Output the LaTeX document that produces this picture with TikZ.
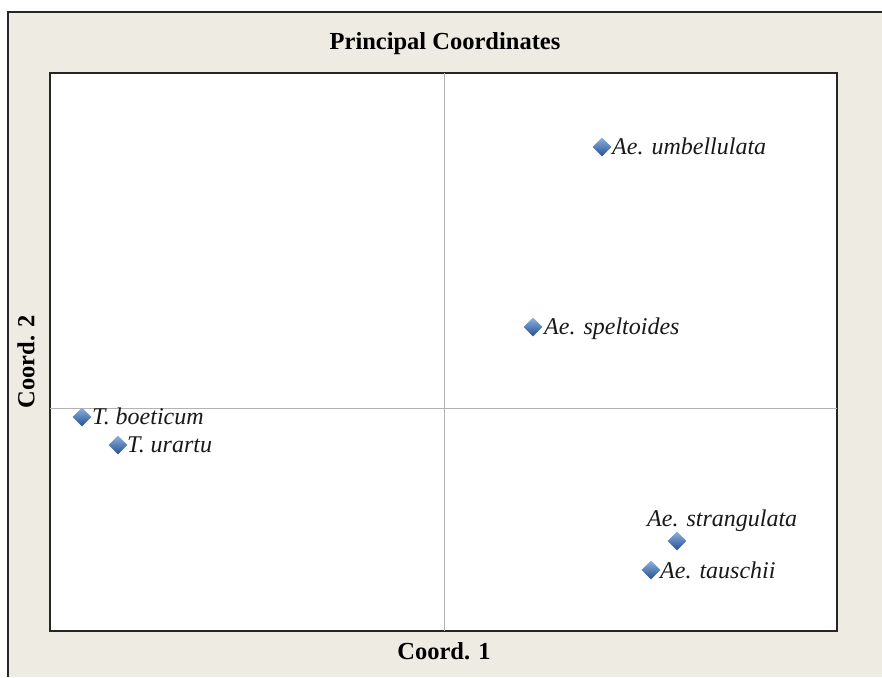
\documentclass[tikz,border=0pt]{standalone}
\usepackage{fontspec}
\setmainfont{Liberation Serif}
\usetikzlibrary{shapes.geometric}
\definecolor{panel}{HTML}{EDEBE2}
\definecolor{ptlight}{HTML}{8DB0E0}
\definecolor{ptdark}{HTML}{24508F}
\tikzset{
  pt/.style={diamond, inner sep=0, minimum size=19pt, top color=ptlight, bottom color=ptdark},
  lab/.style={inner sep=0, anchor=base west, font=\fontsize{24}{28}\selectfont\itshape, text=black!90},
  axlab/.style={inner sep=0, anchor=base, font=\fontsize{24.5}{28}\selectfont\bfseries}
}
\begin{document}
\begin{tikzpicture}[x=1pt, y=-1pt]
    \useasboundingbox (0,0) rectangle (882,677);
    \fill[white] (0,0) rectangle (882,677);
    \fill[panel] (8,12) rectangle (882,677);
    \draw[line width=2pt, black!85] (8,677)--(8,12)--(882,12);
    \draw[line width=1.8pt, black!85, fill=white] (50,73) rectangle (837,631);
    \draw[gray!60, line width=1pt]
      (444,73)--(444,631)
      (50,408)--(837,408)
    ;
    \node[axlab] (title) at (445,49) {Principal Coordinates};
    \node[axlab] (c1) at (444,659) {Coord. 1};
    \node[axlab, rotate=90, anchor=center] (c2) at (26,362) {Coord. 2};
    \node[pt] (umb) at (602,147) {};
    \node[pt] (spe) at (533,327) {};
    \node[pt] (boe) at (82,417) {};
    \node[pt] (ura) at (118,445) {};
    \node[pt] (str) at (677,541) {};
    \node[pt] (tau) at (651,570) {};
    \node[lab] (umbl) at (612,154) {Ae. umbellulata};
    \node[lab] (spel) at (544,334) {Ae. speltoides};
    \node[lab] (boel) at (92,424) {T. boeticum};
    \node[lab] (ural) at (127,452) {T. urartu};
    \node[lab] (strl) at (647,526) {Ae. strangulata};
    \node[lab] (taul) at (660,578) {Ae. tauschii};
  \end{tikzpicture}
\end{document}
